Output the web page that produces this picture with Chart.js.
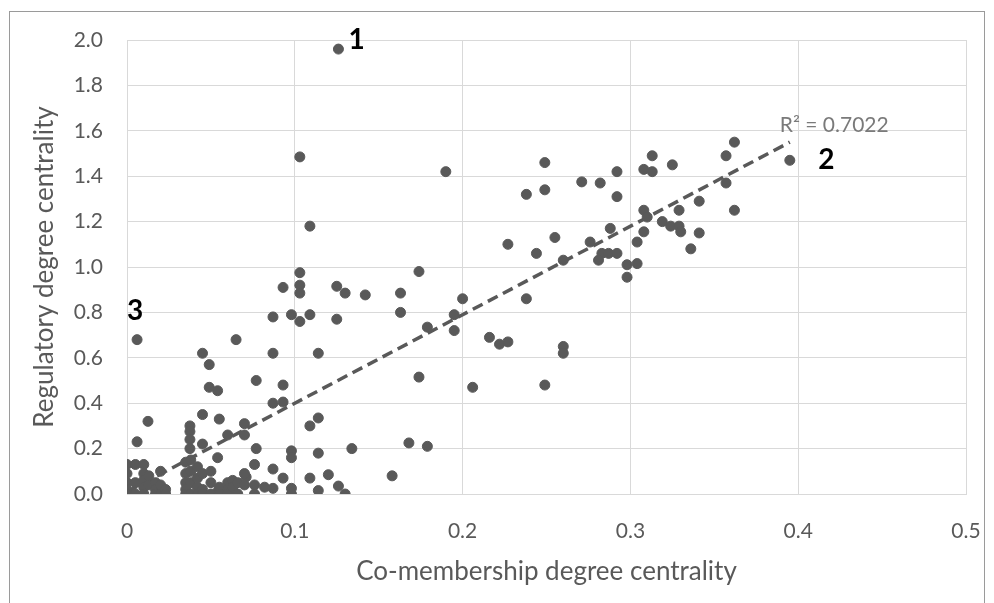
<!DOCTYPE html>
<html>
<head>
<meta charset="utf-8">
<script src="https://cdn.jsdelivr.net/npm/chart.js@4/dist/chart.umd.min.js"></script>
<style>
  html, body { margin: 0; padding: 0; background: #fff; }
  #wrap { position: relative; width: 994px; height: 603px; overflow: hidden; }
  #frame { position: absolute; left: 9px; top: 11px; width: 976px; height: 620px; border: 1px solid #9a9a9a; box-sizing: border-box; pointer-events: none; }
  canvas { position: absolute; left: 0; top: 0; }
</style>
</head>
<body>
<div id="wrap">
  <canvas id="chart" width="994" height="603"></canvas>
  <div id="frame"></div>
</div>
<script>
// 散點：共同成員中心度 (x) 對 監管中心度 (y)
const coMembership = [
  0.126, 0.103, 0.109, 0.190, 0.249, 0.249, 0.238, 0.271, 0.282, 0.292,
  0.292, 0.308, 0.313, 0.313, 0.325, 0.357, 0.362, 0.395, 0.357, 0.362,
  0.341, 0.329, 0.308, 0.310, 0.319, 0.324, 0.329, 0.330, 0.341, 0.336,
  0.308, 0.304, 0.288, 0.276, 0.283, 0.287, 0.292, 0.281, 0.298, 0.304,
  0.298, 0.227, 0.244, 0.255, 0.260, 0.174, 0.200, 0.238, 0.195, 0.179,
  0.195, 0.216, 0.222, 0.227, 0.260, 0.260, 0.174, 0.206, 0.249, 0.103,
  0.093, 0.103, 0.103, 0.125, 0.130, 0.142, 0.163, 0.163, 0.087, 0.098,
  0.103, 0.109, 0.125, 0.087, 0.114, 0.006, 0.065, 0.045, 0.049, 0.077,
  0.093, 0.049, 0.054, 0.087, 0.093, 0.045, 0.055, 0.114, 0.109, 0.0125,
  0.006, 0.0375, 0.0375, 0.0375, 0.070, 0.060, 0.070, 0.077, 0.045, 0.054,
  0.098, 0.098, 0.114, 0.134, 0.168, 0.179, 0.158, 0.076, 0.087, 0.093,
  0.071, 0.060, 0.076, 0.082, 0.087, 0.098, 0.098, 0.109, 0.120, 0.114,
  0.126, 0.130, 0.076, 0.065, 0.054, 0.0375,
  0.000, 0.000, 0.000, 0.000, 0.000,
  0.005, 0.005, 0.005,
  0.010, 0.010, 0.010, 0.010, 0.010,
  0.013, 0.013,
  0.017, 0.017, 0.017,
  0.020, 0.020, 0.020,
  0.023, 0.023,
  0.035, 0.035, 0.035, 0.035, 0.035,
  0.038, 0.038, 0.038, 0.038,
  0.042, 0.042, 0.042, 0.042,
  0.045, 0.045, 0.045,
  0.050, 0.050, 0.050,
  0.055, 0.055,
  0.060, 0.060,
  0.063, 0.063,
  0.066, 0.066,
  0.070, 0.070
];
const regulatory = [
  1.96, 1.485, 1.18, 1.42, 1.46, 1.34, 1.32, 1.375, 1.37, 1.42,
  1.31, 1.43, 1.42, 1.49, 1.45, 1.49, 1.55, 1.47, 1.37, 1.25,
  1.29, 1.25, 1.25, 1.22, 1.20, 1.18, 1.18, 1.155, 1.15, 1.08,
  1.155, 1.11, 1.17, 1.11, 1.06, 1.06, 1.06, 1.03, 1.01, 1.015,
  0.955, 1.10, 1.06, 1.13, 1.03, 0.98, 0.86, 0.86, 0.79, 0.735,
  0.72, 0.69, 0.66, 0.67, 0.65, 0.62, 0.515, 0.47, 0.48, 0.975,
  0.91, 0.92, 0.885, 0.915, 0.885, 0.877, 0.885, 0.80, 0.78, 0.79,
  0.76, 0.79, 0.77, 0.62, 0.62, 0.68, 0.68, 0.62, 0.57, 0.50,
  0.48, 0.47, 0.455, 0.40, 0.405, 0.35, 0.33, 0.335, 0.30, 0.32,
  0.23, 0.30, 0.275, 0.24, 0.31, 0.26, 0.26, 0.20, 0.22, 0.16,
  0.19, 0.16, 0.18, 0.20, 0.225, 0.21, 0.08, 0.13, 0.11, 0.07,
  0.075, 0.05, 0.04, 0.03, 0.025, 0.025, 0.00, 0.07, 0.085, 0.015,
  0.035, 0.00, 0.00, 0.00, 0.01, 0.20,
  0.13, 0.09, 0.05, 0.02, 0.00,
  0.13, 0.05, 0.00,
  0.13, 0.09, 0.06, 0.03, 0.00,
  0.08, 0.04,
  0.05, 0.02, 0.00,
  0.10, 0.04, 0.00,
  0.02, 0.00,
  0.14, 0.09, 0.05, 0.02, 0.00,
  0.15, 0.10, 0.05, 0.00,
  0.12, 0.07, 0.03, 0.00,
  0.09, 0.02, 0.00,
  0.10, 0.05, 0.00,
  0.03, 0.00,
  0.02, 0.00,
  0.06, 0.03,
  0.05, 0.00,
  0.09, 0.04
];

// 線性趨勢線兩端點
const trendX = [0, 0.395];
const trendY = [0.01, 1.55];
const rSquaredText = "R² = 0.7022";
const rSquaredAt = [0.389, 1.625];

// 標號 1, 2, 3
const calloutText = ["1", "2", "3"];
const calloutX = [0.132, 0.412, 0.0];
const calloutY = [2.0, 1.47, 0.806];

const xTicks = [0, 0.1, 0.2, 0.3, 0.4, 0.5];
const yTicks = [0, 0.2, 0.4, 0.6, 0.8, 1.0, 1.2, 1.4, 1.6, 1.8, 2.0];

const FONT = "Lato, 'Open Sans', sans-serif";
const INK = "#595959";
const GRID = "#d9d9d9";

const points = coMembership.map((x, i) => ({ x, y: regulatory[i] }));
const trend = trendX.map((x, i) => ({ x, y: trendY[i] }));

const labelsPlugin = {
  id: "callouts",
  afterDatasetsDraw(chart) {
    const { ctx, scales } = chart;
    const xs = scales.x, ys = scales.y;
    ctx.save();
    ctx.textBaseline = "middle";
    ctx.textAlign = "left";
    ctx.fillStyle = "#000";
    ctx.font = "bold 28px " + FONT;
    calloutText.forEach((t, i) => {
      ctx.fillText(t, xs.getPixelForValue(calloutX[i]), ys.getPixelForValue(calloutY[i]));
    });
    ctx.fillStyle = "#7a7a7a";
    ctx.font = "21px " + FONT;
    ctx.fillText(rSquaredText, xs.getPixelForValue(rSquaredAt[0]), ys.getPixelForValue(rSquaredAt[1]));
    ctx.restore();
  },
};

new Chart(document.getElementById("chart").getContext("2d"), {
  type: "scatter",
  data: {
    datasets: [
      {
        label: "points",
        data: points,
        backgroundColor: INK,
        borderColor: INK,
        borderWidth: 1,
        pointRadius: 5,
        pointHoverRadius: 5,
      },
      {
        type: "line",
        label: "trend",
        data: trend,
        borderColor: INK,
        borderWidth: 3.5,
        borderDash: [11, 6],
        pointRadius: 0,
        fill: false,
      },
    ],
  },
  options: {
    responsive: false,
    animation: false,
    devicePixelRatio: 1,
    layout: { padding: { top: 40, right: 28, left: 0, bottom: 0 } },
    plugins: { legend: { display: false }, tooltip: { enabled: false } },
    scales: {
      x: {
        type: "linear",
        min: 0,
        max: 0.5,
        afterBuildTicks: (s) => { s.ticks = xTicks.map((v) => ({ value: v })); },
        afterFit: (s) => {
          s.height = 109;
          // 刻度字與 padding 不要再把繪圖區往內推
          s.paddingLeft = 0;
          s.paddingRight = 0;
        },
        grid: { color: GRID, drawTicks: false },
        border: { color: GRID },
        ticks: {
          color: INK,
          padding: 25,
          font: { family: FONT, size: 21 },
          callback: (v) => (v === 0 ? "0" : v.toFixed(1)),
        },
        title: {
          display: true,
          text: "Co-membership degree centrality",
          color: INK,
          font: { family: FONT, size: 26 },
          padding: { bottom: 16 },
        },
      },
      y: {
        type: "linear",
        min: 0,
        max: 2,
        afterBuildTicks: (s) => { s.ticks = yTicks.map((v) => ({ value: v })); },
        afterFit: (s) => {
          s.width = 127;
          s.paddingTop = 0;
          s.paddingBottom = 0;
        },
        grid: { color: GRID, drawTicks: false },
        border: { color: GRID },
        ticks: {
          color: INK,
          padding: 24,
          font: { family: FONT, size: 21 },
          callback: (v) => v.toFixed(1),
        },
        title: {
          display: true,
          text: "Regulatory degree centrality",
          color: INK,
          font: { family: FONT, size: 26 },
          padding: { top: 29 },
        },
      },
    },
  },
  plugins: [labelsPlugin],
});
</script>
</body>
</html>
